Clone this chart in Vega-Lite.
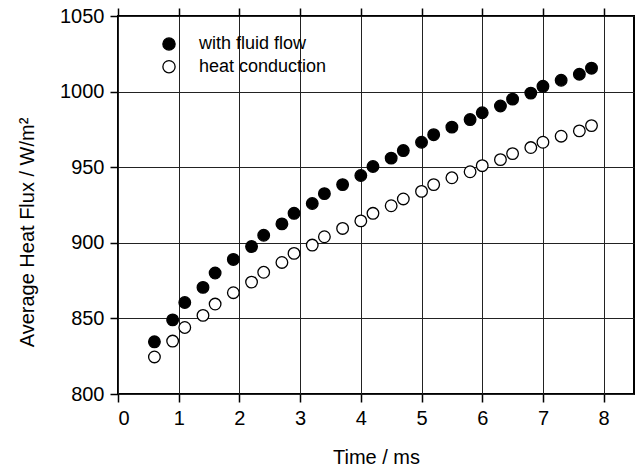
{
  "$schema": "https://vega.github.io/schema/vega-lite/v6.json",
  "autosize": "none",
  "padding": {"left": 118, "top": 16, "right": 7, "bottom": 72},
  "width": 516,
  "height": 378,
  "background": "white",
  "config": {
    "view": {"stroke": "black", "strokeWidth": 2},
    "font": "Liberation Sans"
  },
  "data": {
    "values": [
      {"t": 0.6, "q": 834.5, "series": "with fluid flow"},
      {"t": 0.9, "q": 849.0, "series": "with fluid flow"},
      {"t": 1.1, "q": 860.5, "series": "with fluid flow"},
      {"t": 1.4, "q": 870.5, "series": "with fluid flow"},
      {"t": 1.6, "q": 880.0, "series": "with fluid flow"},
      {"t": 1.9, "q": 889.0, "series": "with fluid flow"},
      {"t": 2.2, "q": 897.5, "series": "with fluid flow"},
      {"t": 2.4, "q": 905.0, "series": "with fluid flow"},
      {"t": 2.7, "q": 912.5, "series": "with fluid flow"},
      {"t": 2.9, "q": 919.5, "series": "with fluid flow"},
      {"t": 3.2, "q": 926.0, "series": "with fluid flow"},
      {"t": 3.4, "q": 932.5, "series": "with fluid flow"},
      {"t": 3.7, "q": 938.5, "series": "with fluid flow"},
      {"t": 4.0, "q": 944.5, "series": "with fluid flow"},
      {"t": 4.2, "q": 950.5, "series": "with fluid flow"},
      {"t": 4.5, "q": 956.0, "series": "with fluid flow"},
      {"t": 4.7, "q": 961.0, "series": "with fluid flow"},
      {"t": 5.0, "q": 966.5, "series": "with fluid flow"},
      {"t": 5.2, "q": 971.5, "series": "with fluid flow"},
      {"t": 5.5, "q": 976.5, "series": "with fluid flow"},
      {"t": 5.8, "q": 981.5, "series": "with fluid flow"},
      {"t": 6.0, "q": 986.0, "series": "with fluid flow"},
      {"t": 6.3, "q": 990.5, "series": "with fluid flow"},
      {"t": 6.5, "q": 995.0, "series": "with fluid flow"},
      {"t": 6.8, "q": 999.0, "series": "with fluid flow"},
      {"t": 7.0, "q": 1003.5, "series": "with fluid flow"},
      {"t": 7.3, "q": 1007.5, "series": "with fluid flow"},
      {"t": 7.6, "q": 1011.5, "series": "with fluid flow"},
      {"t": 7.8, "q": 1015.5, "series": "with fluid flow"},
      {"t": 0.6, "q": 824.5, "series": "heat conduction"},
      {"t": 0.9, "q": 835.0, "series": "heat conduction"},
      {"t": 1.1, "q": 844.0, "series": "heat conduction"},
      {"t": 1.4, "q": 852.0, "series": "heat conduction"},
      {"t": 1.6, "q": 859.5, "series": "heat conduction"},
      {"t": 1.9, "q": 867.0, "series": "heat conduction"},
      {"t": 2.2, "q": 874.0, "series": "heat conduction"},
      {"t": 2.4, "q": 880.5, "series": "heat conduction"},
      {"t": 2.7, "q": 887.0, "series": "heat conduction"},
      {"t": 2.9, "q": 893.0, "series": "heat conduction"},
      {"t": 3.2, "q": 898.5, "series": "heat conduction"},
      {"t": 3.4, "q": 904.0, "series": "heat conduction"},
      {"t": 3.7, "q": 909.5, "series": "heat conduction"},
      {"t": 4.0, "q": 914.5, "series": "heat conduction"},
      {"t": 4.2, "q": 919.5, "series": "heat conduction"},
      {"t": 4.5, "q": 924.5, "series": "heat conduction"},
      {"t": 4.7, "q": 929.0, "series": "heat conduction"},
      {"t": 5.0, "q": 934.0, "series": "heat conduction"},
      {"t": 5.2, "q": 938.5, "series": "heat conduction"},
      {"t": 5.5, "q": 943.0, "series": "heat conduction"},
      {"t": 5.8, "q": 947.0, "series": "heat conduction"},
      {"t": 6.0, "q": 951.0, "series": "heat conduction"},
      {"t": 6.3, "q": 955.0, "series": "heat conduction"},
      {"t": 6.5, "q": 959.0, "series": "heat conduction"},
      {"t": 6.8, "q": 963.0, "series": "heat conduction"},
      {"t": 7.0, "q": 966.5, "series": "heat conduction"},
      {"t": 7.3, "q": 970.5, "series": "heat conduction"},
      {"t": 7.6, "q": 974.0, "series": "heat conduction"},
      {"t": 7.8, "q": 977.5, "series": "heat conduction"}
    ]
  },
  "layer": [
    {
      "mark": {"type": "point", "shape": "circle", "filled": true, "opacity": 0},
      "encoding": {
        "x": {
          "field": "t", "type": "quantitative",
          "scale": {"domain": [0, 8.5], "nice": false, "zero": false},
          "axis": {
            "orient": "top",
            "title": null,
            "values": [0, 1, 2, 3, 4, 5, 6, 7, 8],
            "grid": false,
            "domain": false,
            "labels": false,
            "tickColor": "black", "tickWidth": 1.5, "tickSize": 8
          }
        },
        "y": {"field": "q", "type": "quantitative", "scale": {"domain": [800, 1050], "nice": false, "zero": false}}
      }
    },
    {
      "mark": {"type": "point", "shape": "circle", "filled": true, "stroke": "black", "strokeWidth": 1.3, "size": 135, "opacity": 1},
      "encoding": {
        "x": {
          "field": "t", "type": "quantitative",
          "scale": {"domain": [0, 8.5], "nice": false, "zero": false},
          "axis": {
            "orient": "bottom",
            "title": "Time / ms",
            "values": [0, 1, 2, 3, 4, 5, 6, 7, 8],
            "grid": true, "gridColor": "#222222", "gridOpacity": 1, "gridWidth": 1,
            "domain": false,
            "tickColor": "black", "tickWidth": 1.5, "tickSize": 8,
            "labelFont": "Liberation Sans", "labelFontSize": 20, "labelColor": "black", "labelPadding": 6,
            "titleFont": "Liberation Sans", "titleFontSize": 20, "titleFontWeight": "normal", "titleColor": "black",
            "titleBaseline": "alphabetic", "titleY": 69
          }
        },
        "y": {
          "field": "q", "type": "quantitative",
          "scale": {"domain": [800, 1050], "nice": false, "zero": false},
          "axis": {
            "title": "Average Heat Flux / W/m²",
            "values": [800, 850, 900, 950, 1000, 1050],
            "format": "d",
            "grid": true, "gridColor": "#222222", "gridOpacity": 1, "gridWidth": 1,
            "domain": false,
            "tickColor": "black", "tickWidth": 1.5, "tickSize": 8,
            "labelFont": "Liberation Sans", "labelFontSize": 20, "labelColor": "black", "labelPadding": 6,
            "titleFont": "Liberation Sans", "titleFontSize": 20, "titleFontWeight": "normal", "titleColor": "black",
            "titleBaseline": "alphabetic", "titleX": -85, "titleY": 216, "titleAngle": 270
          }
        },
        "fill": {
          "field": "series", "type": "nominal",
          "scale": {"domain": ["with fluid flow", "heat conduction"], "range": ["black", "white"]},
          "legend": {
            "title": null,
            "orient": "none",
            "legendX": 42,
            "legendY": 19,
            "padding": 0,
            "symbolType": "circle",
            "symbolSize": 150,
            "symbolStrokeColor": "black",
            "symbolStrokeWidth": 1.3,
            "symbolOpacity": 1,
            "labelFont": "Liberation Sans",
            "labelFontSize": 18,
            "labelColor": "black",
            "labelOffset": 21,
            "rowPadding": 4.7
          }
        }
      }
    }
  ]
}
